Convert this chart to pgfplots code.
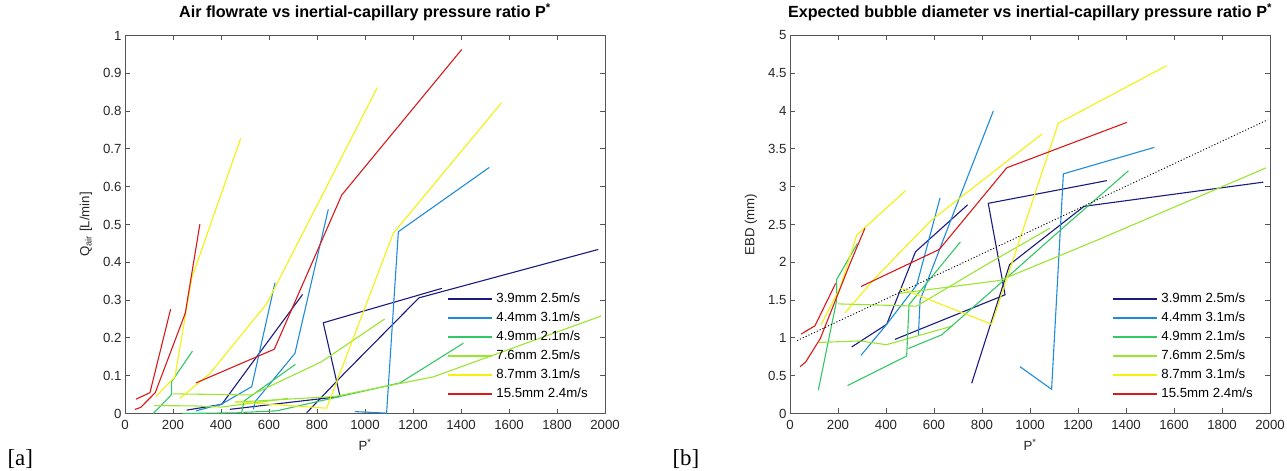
\documentclass[border=0pt]{standalone}
\usepackage{fontspec}
\setmainfont{Liberation Sans}
\newfontfamily\panelfont{Liberation Serif}
\usepackage{pgfplots}
\pgfplotsset{compat=1.18}
\definecolor{cnavy}{HTML}{1A1A80}
\definecolor{cblue}{HTML}{1E8CDC}
\definecolor{cgreen}{HTML}{33C866}
\definecolor{clgreen}{HTML}{99E62E}
\definecolor{cyellow}{HTML}{F2F20D}
\definecolor{cred}{HTML}{D91A1A}
\definecolor{axisgray}{HTML}{555555}
\definecolor{labelgray}{HTML}{262626}
\pgfplotsset{
  mystyle/.style={
    width=480bp, height=378bp, scale only axis,
    xmin=0, xmax=2000, xtick={0,200,...,2000},
    tick align=inside, xtick pos=both, ytick pos=both,
    major tick length=5bp,
    axis line style={color=axisgray, line width=0.9bp},
    every tick/.style={axisgray, line width=0.9bp},
    tick label style={font=\fontsize{13.3}{15}\selectfont, text=labelgray},
    xticklabel style={yshift=-3bp},
    /pgf/number format/assume math mode=true,
    /pgf/number format/1000 sep={},
    label style={font=\fontsize{13.3}{15}\selectfont, text=labelgray},
    xlabel style={yshift=-3bp},
    ylabel style={yshift=4bp},
    title style={font=\bfseries\fontsize{16.2}{18}\selectfont, text=black, yshift=5bp},
    every axis plot/.append style={line width=1.1bp, line join=round, mark=none},
    legend cell align=left,
    legend style={draw=none, fill=none, font=\fontsize{13.3}{15}\selectfont,
      at={(0.670,0.322)}, anchor=north west, row sep=5bp, inner sep=0bp,
      nodes={inner sep=1bp, text height=9.5bp, text depth=2.5bp},
      /tikz/every odd column/.append style={column sep=3bp}},
    legend image code/.code={\draw[#1, line width=1.6bp] (0bp,0bp) -- (44bp,0bp);},
  }
}
\begin{document}
\begin{tikzpicture}
\useasboundingbox (0,0) rectangle (1287bp,471bp);
% ---------------- panel a ----------------
\begin{axis}[mystyle, at={(125bp,57.5bp)}, anchor=south west,
  ymin=0, ymax=1, ytick={0,0.1,...,1},
  yticklabels={0,0.1,0.2,0.3,0.4,0.5,0.6,0.7,0.8,0.9,1},
  title={Air flowrate vs inertial-capillary pressure ratio P\textsuperscript{*}},
  xlabel={P\textsuperscript{*}}, ylabel={Q\textsubscript{air} [L/min]}]
\addplot[cnavy] coordinates {(257,0.009) (403,0.024) (523,0.128) (740,0.315)};
\addlegendentry{3.9mm 2.5m/s}
\addplot[cblue] coordinates {(296,0.007) (403,0.025) (528,0.071) (625,0.346)};
\addlegendentry{4.4mm 3.1m/s}
\addplot[cgreen] coordinates {(118,0.0) (194,0.050) (194,0.084) (281,0.165)};
\addlegendentry{4.9mm 2.1m/s}
\addplot[clgreen] coordinates {(121,0.021) (291,0.020) (402,0.017) (680,0.040)};
\addlegendentry{7.6mm 2.5m/s}
\addplot[cyellow] coordinates {(129,0.045) (208,0.097) (278,0.358) (482,0.728)};
\addlegendentry{8.7mm 3.1m/s}
\addplot[cred] coordinates {(46,0.038) (104,0.055) (190,0.276)};
\addlegendentry{15.5mm 2.4m/s}
\addplot[cnavy, forget plot] coordinates {(437,0.011) (896,0.045) (826,0.240) (1320,0.331)};
\addplot[cnavy, forget plot] coordinates {(757,0.002) (915,0.107) (1225,0.306) (1972,0.434)};
\addplot[cblue, forget plot] coordinates {(535,0.011) (542,0.031) (708,0.159) (847,0.540)};
\addplot[cblue, forget plot] coordinates {(958,0.005) (1090,0.001) (1139,0.481) (1518,0.651)};
\addplot[cgreen, forget plot] coordinates {(240,0.0) (486,0.002) (496,0.033) (710,0.130)};
\addplot[cgreen, forget plot] coordinates {(493,0.003) (632,0.007) (833,0.036) (1146,0.081) (1410,0.186)};
\addplot[clgreen, forget plot] coordinates {(201,0.052) (527,0.049) (819,0.137) (1082,0.250)};
\addplot[clgreen, forget plot] coordinates {(458,0.030) (874,0.045) (1285,0.097) (1984,0.258)};
\addplot[cyellow, forget plot] coordinates {(229,0.040) (354,0.106) (590,0.290) (1051,0.862)};
\addplot[cyellow, forget plot] coordinates {(458,0.031) (840,0.014) (1118,0.477) (1569,0.822)};
\addplot[cred, forget plot] coordinates {(42,0.011) (65,0.016) (126,0.055) (251,0.265) (312,0.501)};
\addplot[cred, forget plot] coordinates {(296,0.081) (622,0.170) (903,0.578) (1403,0.963)};
\end{axis}
% ---------------- panel b ----------------
\begin{axis}[mystyle, at={(790bp,57.5bp)}, anchor=south west,
  ymin=0, ymax=5, ytick={0,0.5,...,5},
  yticklabels={0,0.5,1,1.5,2,2.5,3,3.5,4,4.5,5},
  title={Expected bubble diameter vs inertial-capillary pressure ratio P\textsuperscript{*}},
  xlabel={P\textsuperscript{*}}, ylabel={EBD (mm)}]
\addplot[cnavy] coordinates {(257,0.88) (403,1.18) (523,2.14) (740,2.76)};
\addlegendentry{3.9mm 2.5m/s}
\addplot[cblue] coordinates {(296,0.77) (403,1.18) (528,1.70) (625,2.85)};
\addlegendentry{4.4mm 3.1m/s}
\addplot[cgreen] coordinates {(118,0.31) (194,1.49) (194,1.77) (281,2.25)};
\addlegendentry{4.9mm 2.1m/s}
\addplot[clgreen] coordinates {(121,0.94) (291,0.96) (402,0.91) (680,1.16)};
\addlegendentry{7.6mm 2.5m/s}
\addplot[cyellow] coordinates {(129,1.17) (208,1.66) (278,2.36) (482,2.95)};
\addlegendentry{8.7mm 3.1m/s}
\addplot[cred] coordinates {(46,1.05) (104,1.16) (190,1.72)};
\addlegendentry{15.5mm 2.4m/s}
\addplot[cnavy, forget plot] coordinates {(437,0.98) (896,1.57) (826,2.78) (1320,3.08)};
\addplot[cnavy, forget plot] coordinates {(757,0.40) (915,1.97) (1225,2.74) (1972,3.06)};
\addplot[cblue, forget plot] coordinates {(535,1.04) (542,1.50) (708,2.87) (847,4.00)};
\addplot[cblue, forget plot] coordinates {(958,0.62) (1090,0.32) (1139,3.17) (1518,3.52)};
\addplot[cgreen, forget plot] coordinates {(240,0.37) (486,0.76) (496,1.44) (710,2.27)};
\addplot[cgreen, forget plot] coordinates {(493,0.86) (632,1.04) (833,1.60) (1146,2.48) (1410,3.21)};
\addplot[clgreen, forget plot] coordinates {(201,1.45) (527,1.42) (819,1.97) (1082,2.45)};
\addplot[clgreen, forget plot] coordinates {(458,1.59) (874,1.76) (1285,2.30) (1984,3.25)};
\addplot[cyellow, forget plot] coordinates {(229,1.33) (354,1.79) (590,2.56) (1051,3.70)};
\addplot[cyellow, forget plot] coordinates {(458,1.66) (840,1.18) (1118,3.84) (1569,4.60)};
\addplot[cred, forget plot] coordinates {(42,0.62) (65,0.68) (126,0.99) (251,1.99) (312,2.45)};
\addplot[cred, forget plot] coordinates {(296,1.68) (622,2.17) (903,3.25) (1403,3.85)};
\addplot[black, dotted, line width=0.9bp, forget plot] coordinates {(30,0.965) (1990,3.885)};
\end{axis}
\node[font=\panelfont\fontsize{23}{26}\selectfont, anchor=base west] at (4bp,6bp) {[a]};
\node[font=\panelfont\fontsize{23}{26}\selectfont, anchor=base west] at (669bp,6bp) {[b]};
\end{tikzpicture}
\end{document}
